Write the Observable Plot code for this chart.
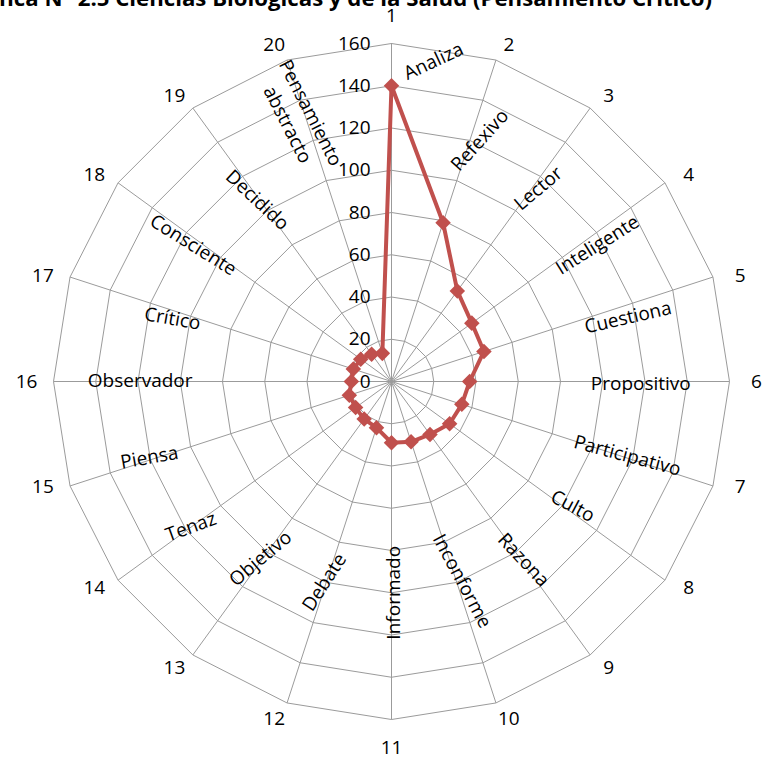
<!DOCTYPE html>
<html>
<head>
<meta charset="utf-8">
<script src="https://cdn.jsdelivr.net/npm/d3@7"></script>
<script src="https://cdn.jsdelivr.net/npm/@observablehq/plot@0.6"></script>
<style>
  html, body { margin: 0; padding: 0; background: #fff; overflow: hidden; }
  #wrap { position: relative; width: 763px; height: 761px; overflow: hidden; }
  #title {
    position: absolute; right: 51px; top: -13px; white-space: nowrap;
    font-family: "Open Sans", sans-serif; font-weight: 700; font-size: 22.2px;
    line-height: 22px; color: #000;
  }
  #chart { position: absolute; left: 0; top: 0; }
</style>
</head>
<body>
<div id="wrap">
  <div id="chart"></div>
  <div id="title">Gráfica N° 2.5 Ciencias Biológicas y de la Salud (Pensamiento Crítico)</div>
</div>
<script>
// Spoke numbers and the attribute named on each spoke
const spokes = d3.range(1, 21);
const attributes = [
  "Analiza", "Refexivo", "Lector", "Inteligente", "Cuestiona",
  "Propositivo", "Participativo", "Culto", "Razona", "Inconforme",
  "Informado", "Debate", "Objetivo", "Tenaz", "Piensa",
  "Observador", "Crítico", "Consciente", "Decidido", "Pensamiento\nabstracto"
];
// Frequency for each attribute
const values = [140, 79, 53, 47, 46, 37, 35, 34, 31, 30, 29, 23, 22, 21, 21, 19, 19, 18, 16, 14];
// Radial axis ticks
const ticks = [0, 20, 40, 60, 80, 100, 120, 140, 160];

// Placement of the attribute names: [angle (deg), radius (axis units), rotation (deg)]
const nameLayout = [
  [7.3, 153.7, -25], [19.7, 122, -48], [36.8, 115, -40], [56, 117, -32], [74.4, 116, -13],
  [90, 118, 0], [107, 117, 15], [124, 104, 28], [143, 105, 47], [160, 100, 62],
  [180, 100, -90], [199, 100, -57], [217, 104, -40], [234.5, 117, -20], [253, 120, -10],
  [270.7, 119, 0], [286.5, 108, 10], [305, 114, 32], [324, 107, 43], [341, 132, 63]
];

const W = 763, H = 761, cx = 391, cy = 381, rMaxPx = 338;
const rMax = 160;
const k = rMaxPx / rMax;
const rad = d => d * Math.PI / 180;
const angleOf = i => rad(i * 360 / spokes.length);
const px = (r, a) => r * Math.sin(a);
const py = (r, a) => r * Math.cos(a);

// spoke numbers: a bit further out toward the sides, nudged away from the vertical axis
const numberRadius = a => {
  const s = Math.sin(a), c = Math.cos(a);
  return (356 + 9 * s * s + (Math.abs(s) < 1e-6 ? 10 : 0)) / k;
};
const numberAngle = a => {
  const t = Math.sin(2 * a);
  return a + (Math.abs(t) > 0.1 ? rad(1.2) * Math.sign(t) : 0);
};

const rings = ticks.filter(t => t > 0).flatMap(t =>
  d3.range(spokes.length + 1).map(i => ({t, a: angleOf(i % spokes.length)}))
);
const series = values.map((v, i) => ({v, a: angleOf(i)}));
const spokeData = spokes.map((s, i) => ({s, a: angleOf(i)}));
const names = attributes.map((n, i) => ({n, a: rad(nameLayout[i][0]), r: nameLayout[i][1], rot: nameLayout[i][2]}));

const grid = "#9b9b9b";
const red = "#C0504D";
const font = "'Open Sans', sans-serif";

const chart = Plot.plot({
  width: W,
  height: H,
  margin: 0,
  x: {domain: [-cx / k, (W - cx) / k], range: [0, W], axis: null},
  y: {domain: [cy / k, -(H - cy) / k], range: [0, H], axis: null},
  style: {fontFamily: font, fontSize: "19px", color: "#000", background: "#fff"},
  marks: [
    // polygonal rings
    Plot.line(rings, {x: d => px(d.t, d.a), y: d => py(d.t, d.a), z: "t", stroke: grid, strokeWidth: 1}),
    // spokes
    Plot.link(spokeData, {x1: 0, y1: 0, x2: d => px(rMax, d.a), y2: d => py(rMax, d.a), stroke: grid, strokeWidth: 1}),
    // radial tick labels
    Plot.text(ticks, {x: 0, y: d => d, text: d => String(d), textAnchor: "end", dx: -21, fontSize: 19, fill: "#000"}),
    // spoke numbers
    Plot.text(spokeData, {
      x: d => px(numberRadius(d.a), numberAngle(d.a)),
      y: d => py(numberRadius(d.a), numberAngle(d.a)),
      text: d => String(d.s), fontSize: 19, fill: "#000"
    }),
    // attribute names
    Plot.text(names, {
      x: d => px(d.r, d.a), y: d => py(d.r, d.a), text: "n", rotate: "rot",
      fontSize: 19, lineHeight: 1.35, fill: "#000"
    }),
    // series
    Plot.line(series, {x: d => px(d.v, d.a), y: d => py(d.v, d.a), curve: "linear-closed", stroke: red, strokeWidth: 4}),
    Plot.dot(series, {x: d => px(d.v, d.a), y: d => py(d.v, d.a), symbol: "diamond2", r: 7, fill: red, stroke: null})
  ]
});

document.getElementById("chart").appendChild(chart);
</script>
</body>
</html>
